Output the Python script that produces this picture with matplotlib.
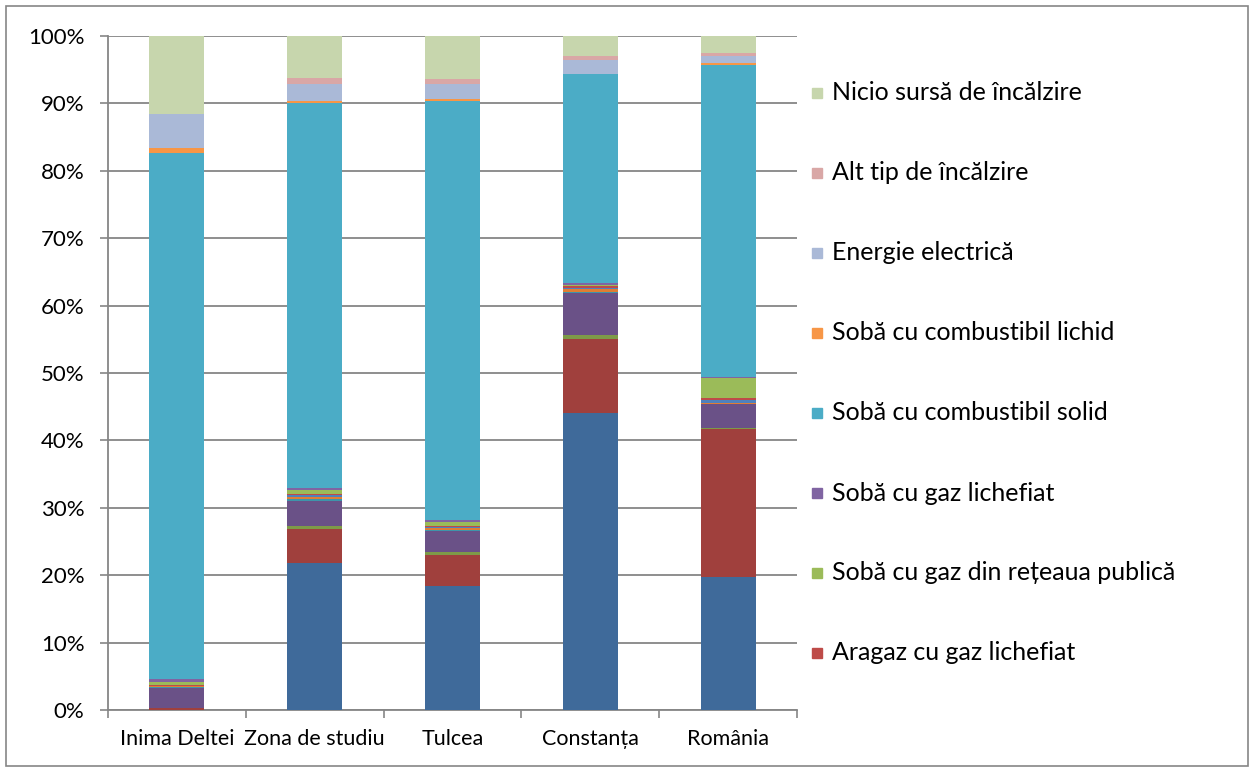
import numpy as np
import matplotlib.pyplot as plt
from matplotlib.patches import Rectangle

plt.rcParams['font.family'] = ['Lato', 'DejaVu Sans']

categories = ['Inima Deltei', 'Zona de studiu', 'Tulcea', 'Constanța', 'România']

# seriile de jos in sus (primele 7 nu apar in legenda, care e taiata)
series_names = [
    'Termoficare',
    'Centrală termică proprie',
    'Centrală termică de bloc',
    'Centrală termică pe lemne',
    'Centrală termică pe gaz lichefiat',
    'Centrală termică pe combustibil lichid',
    'Aragaz cu gaz din rețeaua publică',
    'Aragaz cu gaz lichefiat',
    'Sobă cu gaz din rețeaua publică',
    'Sobă cu gaz lichefiat',
    'Sobă cu combustibil solid',
    'Sobă cu combustibil lichid',
    'Energie electrică',
    'Alt tip de încălzire',
    'Nicio sursă de încălzire',
]
series_colors = [
    '#3F6A9A', '#A0403D', '#7E9A48', '#6A5187', '#3E94AA', '#E07E33',
    '#4F81BD', '#BE4B48', '#9BBB59', '#8064A2', '#4BACC6', '#F79646',
    '#AAB9D7', '#D9A7A6', '#C7D6AD',
]

# procente pe fiecare categorie, in ordinea seriilor
inima_deltei = [0.0, 0.3, 0.0, 3.0, 0.1, 0.15, 0.05, 0.15, 0.45, 0.4, 78.1, 0.7, 5.0, 0.0, 11.6]
zona_studiu = [21.8, 5.0, 0.55, 3.65, 0.3, 0.35, 0.2, 0.25, 0.5, 0.4, 57.0, 0.3, 2.65, 0.85, 6.2]
tulcea = [18.45, 4.55, 0.4, 3.2, 0.15, 0.25, 0.1, 0.15, 0.6, 0.35, 62.1, 0.4, 2.25, 0.6, 6.45]
constanta = [44.1, 11.0, 0.5, 6.2, 0.15, 0.55, 0.15, 0.3, 0.15, 0.3, 30.9, 0.1, 2.0, 0.6, 3.0]
romania = [19.7, 22.0, 0.15, 3.55, 0.05, 0.15, 0.4, 0.35, 2.95, 0.15, 46.2, 0.4, 0.95, 0.5, 2.5]

yticks = list(range(0, 101, 10))
legend_first = 7  # de la "Aragaz cu gaz lichefiat" in sus

W, H = 1254, 772
GRAY = '#868686'

fig = plt.figure(figsize=(W / 100, H / 100), dpi=100)
ax = fig.add_axes([108 / W, 1 - 710 / H, (797 - 108) / W, (710 - 36) / H])

values = np.array([inima_deltei, zona_studiu, tulcea, constanta, romania]).T
x = np.arange(len(categories))
bottom = np.zeros(len(categories))
for name, color, vals in zip(series_names, series_colors, values):
    ax.bar(x, vals, 0.4, bottom=bottom, color=color, label=name, zorder=3)
    bottom += vals

ax.set_xlim(-0.5, len(categories) - 0.5)
ax.set_ylim(0, 100)
ax.set_yticks(yticks)
ax.set_yticklabels([f'{t}%' for t in yticks], fontsize=16)
ax.set_xticks(x)
ax.set_xticklabels(categories, fontsize=15.5)
ax.set_xticks(np.arange(-0.5, len(categories)), minor=True)
ax.tick_params(axis='x', which='major', length=0, pad=14)
ax.tick_params(axis='x', which='minor', length=6, width=1.2, color=GRAY, direction='out')
ax.tick_params(axis='y', length=6, width=1.2, color=GRAY, pad=11)

ax.set_axisbelow(True)
ax.yaxis.grid(True, color=GRAY, lw=1.3)
for side in ('top', 'right'):
    ax.spines[side].set_visible(False)
for side in ('left', 'bottom'):
    ax.spines[side].set_color(GRAY)
    ax.spines[side].set_linewidth(1.3)

# legenda (ordinea inversa, de sus in jos)
for i, k in enumerate(range(len(series_names) - 1, legend_first - 1, -1)):
    yc = 93 + i * 80
    fig.add_artist(Rectangle((812 / W, 1 - (yc + 5) / H), 10 / W, 10 / H,
                             transform=fig.transFigure, color=series_colors[k]))
    fig.text(832 / W, 1 - yc / H, series_names[k], fontsize=18, va='center', ha='left')

fig.add_artist(Rectangle((6 / W, 6 / H), (W - 12) / W, (H - 12) / H,
                         transform=fig.transFigure, fill=False, ec=GRAY, lw=1.2))

fig.savefig('out.png', dpi=100)
plt.close()
